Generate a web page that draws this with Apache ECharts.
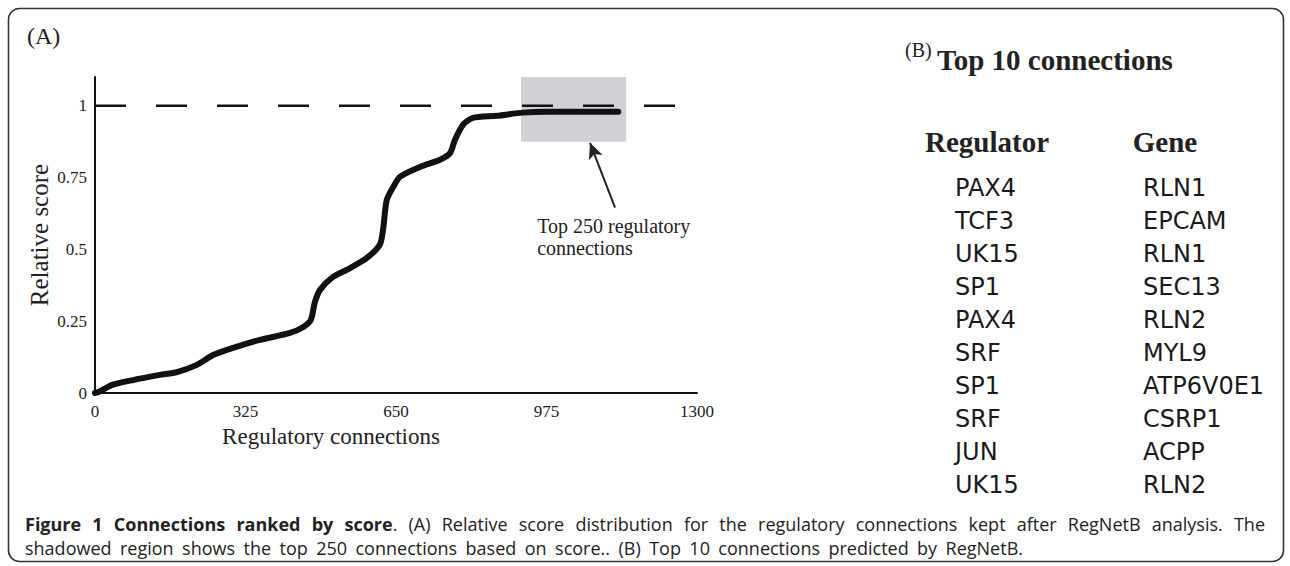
<!DOCTYPE html>
<html><head><meta charset="utf-8">
<script src="https://cdn.jsdelivr.net/npm/echarts@6/dist/echarts.min.js"></script>
<style>html,body{margin:0;padding:0;background:#fff}#c{width:1290px;height:566px}</style>
</head><body><div id="c"></div>
<script>
// ---- data ----
const connections = [0,10,37,82,140,177,220,255,298,356,421,450,466,475,486,514,551,587,615,622,630,645,659,702,745,767,777,795,816,868,924,976,1130];
const relativeScore = [0,0.005,0.028,0.045,0.063,0.073,0.098,0.132,0.157,0.185,0.209,0.23,0.254,0.317,0.359,0.404,0.435,0.47,0.516,0.568,0.672,0.72,0.753,0.787,0.812,0.836,0.88,0.934,0.958,0.965,0.976,0.979,0.979];
const refLineX = [0,1253];
const refLineY = [1,1];
const xTickValues = [0,325,650,975,1300];
const xTickLabels = ['0','325','650','975','1300'];
const yTickValues = [0,0.25,0.5,0.75,1];
const yTickLabels = ['0','0.25','0.5','0.75','1'];
const topRegionX = [920,1147];
const topRegionY = [0.875,1.115];
const arrowFrom = [1123,0.645];
const arrowTo = [1069,0.871];
const annotationAt = [955,0.582];
const annotationLines = ['Top 250 regulatory','connections'];
const regulators = ['PAX4','TCF3','UK15','SP1','PAX4','SRF','SP1','SRF','JUN','UK15'];
const genes = ['RLN1','EPCAM','RLN1','SEC13','RLN2','MYL9','ATP6V0E1','CSRP1','ACPP','RLN2'];
const captionBold = 'Figure 1 Connections ranked by score';
const captionLine1 = '. (A) Relative score distribution for the regulatory connections kept after RegNetB analysis. The';
const captionLine2 = 'shadowed region shows the top 250 connections based on score.. (B) Top 10 connections predicted by RegNetB.';

const SERIF = 'Liberation Serif';
const chart = echarts.init(document.getElementById('c'), null, {renderer:'svg'});

chart.setOption({
  animation:false,
  backgroundColor:'#fff',
  grid:{left:95, right:593, top:77, bottom:173},
  xAxis:{
    type:'value', min:0, max:1300, interval:325,
    axisLine:{lineStyle:{color:'#111', width:2}},
    axisTick:{show:false}, splitLine:{show:false},
    axisLabel:{fontFamily:SERIF, fontSize:17, color:'#222', margin:10,
      formatter:v=>{const i=xTickValues.indexOf(v);return i>=0?xTickLabels[i]:'';}},
    name:'Regulatory connections', nameLocation:'middle', nameGap:32,
    nameTextStyle:{fontFamily:SERIF, fontSize:23, color:'#222', padding:[0,130,0,0]}
  },
  yAxis:{
    type:'value', min:0, max:1.1, interval:0.25,
    axisLine:{show:true, lineStyle:{color:'#111', width:2}},
    axisTick:{show:false}, splitLine:{show:false},
    axisLabel:{fontFamily:SERIF, fontSize:17, color:'#222', margin:8,
      formatter:v=>{const i=yTickValues.findIndex(t=>Math.abs(t-v)<1e-9);return i>=0?yTickLabels[i]:'';}},
    name:'Relative score', nameLocation:'middle', nameGap:43,
    nameTextStyle:{fontFamily:SERIF, fontSize:25, color:'#222'}
  },
  series:[
    {
      name:'Perfect score', type:'line', z:2, clip:false,
      data:refLineX.map((x,i)=>[x,refLineY[i]]),
      showSymbol:false, symbol:'none',
      lineStyle:{color:'#111', width:2.5, type:[31,30]},
      markArea:{silent:true, itemStyle:{color:'#d1d1d5'},
        data:[[{coord:[topRegionX[0],topRegionY[0]]},{coord:[topRegionX[1],topRegionY[1]]}]]},
      markLine:{silent:true, symbol:['none','arrow'], symbolSize:[11,16],
        lineStyle:{color:'#222', width:2, type:'solid'}, label:{show:false},
        data:[[{coord:arrowFrom},{coord:arrowTo}]]}
    },
    {
      name:'Relative score', type:'line', z:3,
      data:connections.map((x,i)=>[x,relativeScore[i]]),
      showSymbol:false, symbol:'none', smooth:0.25,
      lineStyle:{color:'#111', width:6, cap:'round', join:'round'}
    }
  ]
});

// ---- annotations / table / caption ----
const mctx = document.createElement('canvas').getContext('2d');
function measure(text, size, family, bold){ mctx.font=(bold?'bold ':'')+size+'px "'+family+'"'; return mctx.measureText(text).width; }
const g = [];
function txt(text,x,y,size,family,opt){
  opt=opt||{};
  g.push({type:'text', x:x, y:y, silent:true, style:{text:text, fontSize:size, fontFamily:family,
    fontWeight:opt.bold?'bold':'normal', fill:opt.fill||'#222', align:opt.align||'left', verticalAlign:opt.va||'middle'}});
}
g.push({type:'rect', silent:true, shape:{x:8.5,y:8.5,width:1275,height:553,r:11}, style:{fill:'none', stroke:'#333', lineWidth:1.6}});
txt('(A)',27,36,24,SERIF);
const ap = chart.convertToPixel({gridIndex:0}, annotationAt);
annotationLines.forEach((t,i)=>txt(t, ap[0], ap[1]+i*22, 20, SERIF));

// panel B
txt('(B)',905,50,20,SERIF);
txt('Top 10 connections',937,60,29,SERIF,{bold:true});
txt('Regulator',987,142,29,SERIF,{bold:true,align:'center'});
txt('Gene',1165,142,29,SERIF,{bold:true,align:'center'});
regulators.forEach((r,i)=>{
  txt(r,955,188+i*33,24,'DejaVu Sans',{fill:'#1a1a1a'});
  txt(genes[i],1143,188+i*33,24,'DejaVu Sans',{fill:'#1a1a1a'});
});

// caption (both lines justified to the reference's line extents)
const CF='Open Sans';
const cs = 0.94*100*998/measure(captionLine2,100,CF,false);
const words1 = [];
captionBold.split(' ').forEach(w=>words1.push([[w,true]]));
const rest = captionLine1.split(' ');
words1[words1.length-1].push([rest[0],false]);
rest.slice(1).forEach(w=>words1.push([[w,false]]));
function placeLine(words, x0, x1, y){
  const widths = words.map(w=>w.reduce((s,seg)=>s+measure(seg[0],cs,CF,seg[1]),0));
  const total = widths.reduce((a,b)=>a+b,0);
  const gap = Math.max(measure(' ',cs,CF,false),(x1-x0-total)/(words.length-1));
  let x=x0;
  words.forEach((w,i)=>{
    let sx=x;
    w.forEach(seg=>{ txt(seg[0],sx,y,cs,CF,{bold:seg[1],fill:'#222'}); sx+=measure(seg[0],cs,CF,seg[1]); });
    x+=widths[i]+gap;
  });
}
placeLine(words1,25,1265,524);
placeLine(captionLine2.split(' ').map(w=>[[w,false]]),25,1023,548);

chart.setOption({graphic:g});
</script></body></html>
